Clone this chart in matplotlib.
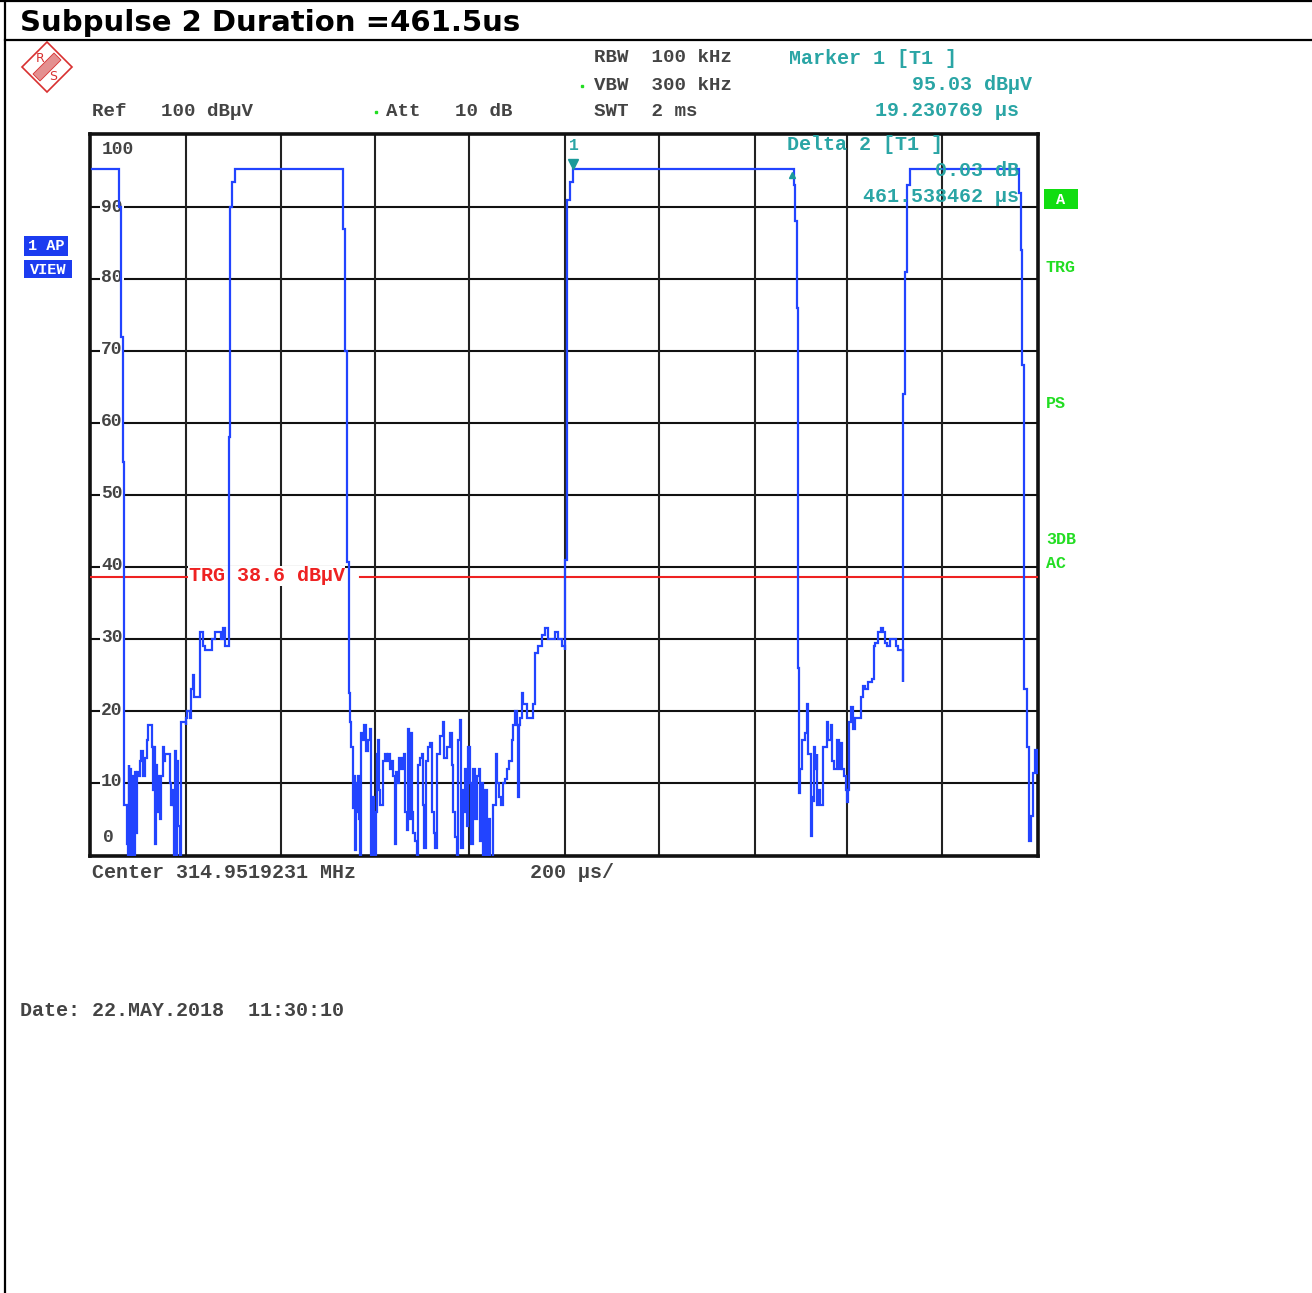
import matplotlib
matplotlib.use("Agg")
import matplotlib.pyplot as plt
from matplotlib.patches import Polygon, Rectangle

# ---------- data ----------
trace_time_us = [4, 57, 61, 65.4, 69.6, 71.7,
    72.5, 76, 77.4, 79.5, 81.6, 83, 85, 87.2, 89.3, 90.7, 92.8, 95, 97, 98.5, 102.7, 104.8, 107.6, 111, 114.7, 116.8,
    119.6, 123, 128.7, 130.8, 133.6, 135.8, 137, 139, 140.7, 142.8, 145.6, 147.7, 149.8, 153.3, 156, 159, 166.7,
    168.8, 171, 173.7, 175.8, 178, 179.4, 181.5, 183, 186.4, 190, 191.3, 200.5, 201.9, 202.6, 205.4, 211, 213,
    216.6, 218.8, 221.6, 230, 232, 235.6, 239, 242.7, 253, 256.7, 263.8, 270.8, 275.7, 280, 284.9, 293,
    293.5, 295.4, 299.6, 306, 533.8, 534, 538, 542.3, 547,
    548.6, 550.8, 553.6, 554.3, 557.8, 559.9, 562, 564, 566, 568, 570.5, 572.6, 575.4, 577.5, 581, 583, 587.3, 590.9,
    593, 595, 597.9, 600, 602.8, 605, 607, 609, 612, 616, 619, 622, 626, 629.5, 633, 636.6, 640, 643.6, 645.7, 648.5,
    652.8, 655.6, 659.8, 663.3, 664.7, 668, 671, 673.9, 676.7, 679.5, 682.3, 685.8, 689.3, 692, 696.4, 699.9, 703.4,
    705.5, 709, 714, 717.5, 721, 726, 728, 731.5, 738.6, 744, 747.7, 752.6, 759.7, 763.2, 766.7, 770, 773.7, 777.3,
    780.8, 782.9, 786.4, 789.2, 791.3, 794.9, 798.4, 801.9, 804.7, 808.9, 812.4, 816, 820.2, 823, 826.5, 830, 833.5,
    837, 840.6, 844, 847.6, 849.7, 853, 856.7, 859.6, 863, 866.6, 870.8, 875.7, 879, 885, 889.8, 893.3, 896.9, 900.4,
    902.5, 904.6, 907.4, 911, 914.4, 921.5, 928.5, 934, 939, 946, 953, 960, 967, 974, 981, 988, 995, 1002,
    1003, 1004, 1006.5, 1012.8, 1019, 1483.3, 1485, 1487.5, 1491.8, 1493,
    1494.6, 1496, 1498, 1501.6, 1505, 1508.7, 1512, 1514, 1517.8, 1520.6, 1521.3, 1523.4, 1526, 1528, 1530.5, 1533,
    1534.7, 1536.8, 1540, 1546, 1546.3, 1551, 1554, 1558, 1562.8, 1565, 1570, 1574, 1577, 1579.7, 1584, 1586.7, 1591,
    1594.5, 1598, 1600, 1602, 1605, 1609, 1614, 1621, 1626, 1630, 1635, 1642, 1649, 1653, 1656, 1663, 1668, 1672.6,
    1677.5, 1681, 1688, 1695, 1700.7, 1705.6, 1714.8, 1714.9, 1715.4, 1719.6, 1724, 1730, 1958, 1960, 1964, 1966.5,
    1970.7, 1976, 1980, 1982, 1985, 1989, 1994, 1997]
trace_level_dbuv = [95.3, 95.3, 90, 72, 54.6, 41,
    7, 7, 1.5, -3, 12.5, 0, 12, -1, 11, 3, -1, 11.5, 3, 11.5, 11, 13, 14.5, 11, 11, 13.5,
    16, 18, 18, 15, 9, 15, 1.5, 12.5, 6, 11, 8, 5, 11, 15, 13, 14, 14,
    10, 7, 9, 7, -3, 14.5, -3, 13, 4, -3, 18.5, 18.5, 18, 19, 20, 19, 23,
    25, 22, 22, 22, 31, 31, 29, 28.5, 28.5, 30, 31, 31, 30, 31.5, 29, 29,
    58, 90, 93.5, 95.3, 95.3, 87, 70, 40.7, 22.5,
    18.5, 15, 15, 6.5, 11, 0.7, 10, 6, 11, 5, -2, 17, 16, 18, 18, 14.5, 16, 17.5,
    -2, -3, 8, -2, 6, 14, 16, 9, 7, 7, 13, 14, 13, 14, 12, 13, 11, 1.5, 11.5, 10,
    13.5, 12, 13.5, 14, 6, 3.5, 17.5, 5, 17, 6, 3, 2, 0, 12.5, 13.5, 14, 7,
    1, 13, 15, 15.5, 6, 3, 1, 14, 16.5, 18.5, 13.5, 15, 17, 12.5, 6, 2.5, 0, 16,
    18.8, 1, 9, 6, 12, 4, 15, 10, 1.5, 12, 5, 11, 12, 2, 10, -1, 9,
    0, 5, -1, -2, 7, 7, 14, 10, 8, 7, 10, 10.5, 12, 13, 16, 18, 20, 18,
    8, 18, 19, 22.5, 21, 19, 19, 21, 28, 29, 30.5, 31.5, 30, 30, 31, 30, 29, 28.5,
    41, 41, 91, 93.5, 95.3, 95.3, 93, 88, 76, 26,
    26, 8.6, 12, 16, 16, 17, 21, 14, 14, 6, 2.6, 8, 7.5, 15, 12, 14,
    7, 9, 7, 7, 15, 15, 18.5, 16, 18, 13, 12, 12, 16, 12, 15.5, 12, 11,
    9, 7.3, 9, 18.5, 20.5, 17.5, 19, 19, 22, 23.5, 23, 24, 24.5, 29, 29.5, 31, 31.5, 31,
    29.5, 29, 30, 30, 29, 28.5, 28, 24, 64, 81, 93, 95.3, 95.3, 92, 84, 68,
    23, 15, 7.7, 2, 5.4, 11.4, 14.6, 11.4]
level_grid = [10, 20, 30, 40, 50, 60, 70, 80, 90]
time_grid_us = [202.5, 403, 601, 800, 1002, 1200, 1403, 1597, 1797]
level_labels = ["100", "90", "80", "70", "60", "50", "40", "30", "20", "10", "0"]
trigger_level = 38.6
marker1_time_us = 1019.2
marker1_level = 95.03
delta2_time_us = 1480.8

title = "Subpulse 2 Duration =461.5us"
TEAL, GREEN, RED, BLUE, INK = "#2aa5a5", "#22dd22", "#ee2222", "#2244ff", "#444444"
W, H = 1312, 1293

fig = plt.figure(figsize=(W/100, H/100), dpi=100, facecolor="white")

# page overlay in image pixels
page = fig.add_axes([0, 0, 1, 1], zorder=0)
page.set_xlim(0, W); page.set_ylim(H, 0); page.axis("off")
top = fig.add_axes([0, 0, 1, 1], zorder=5)
top.set_xlim(0, W); top.set_ylim(H, 0); top.axis("off"); top.patch.set_alpha(0)

page.plot([5, 5], [0, H], color="black", lw=1.6)
page.plot([0, W], [1, 1], color="black", lw=1.6)
page.plot([5, W], [40, 40], color="black", lw=1.6)
page.text(20, 23, title, fontsize=21, fontweight="bold", family="DejaVu Sans", va="center", color="black")

def label(x, y, s, color=INK, ha="left", size=14.4, ax=page, **kw):
    ax.text(x, y, s, color=color, ha=ha, va="center", fontsize=size,
            family=["Liberation Mono", "DejaVu Sans Mono"], fontweight="bold", **kw)

label(92, 111, "Ref   100 dBµV", size=13.8)
label(386, 111, "Att   10 dB", size=13.8)
label(594, 58, "RBW  100 kHz", size=13.8)
label(594, 85, "VBW  300 kHz", size=13.8)
label(594, 111, "SWT  2 ms", size=13.8)
label(789, 59, "Marker 1 [T1 ]", TEAL)
label(1032, 85, "95.03 dBµV", TEAL, ha="right")
label(1019, 111, "19.230769 µs", TEAL, ha="right")
label(92, 873, "Center 314.9519231 MHz")
label(530, 873, "200 µs/")
label(20, 1011, "Date: 22.MAY.2018  11:30:10")
page.plot([582, 376], [86, 112], ls="none", marker="s", ms=2, color=GREEN)

# R&S logo
page.add_patch(Polygon([(47, 42), (72, 67), (47, 92), (22, 67)], closed=True, fill=False, ec="#d83030", lw=1.2))
page.add_patch(Polygon([(33, 74), (54, 53), (61, 60), (40, 81)], closed=True, fc="#e49090", ec="#d83030", lw=0.6))
page.text(40, 58, "R", color="#d83030", fontsize=9, ha="center", va="center", family="DejaVu Sans")
page.text(53, 76, "S", color="#d83030", fontsize=9, ha="center", va="center", family="DejaVu Sans")

# side badges
page.add_patch(Rectangle((24, 236), 44, 20, fc="#1c3cf0", ec="none"))
label(46, 246, "1 AP", "white", ha="center", size=11)
page.add_patch(Rectangle((24, 260), 48, 18, fc="#1c3cf0", ec="none"))
label(48, 270, "VIEW", "white", ha="center", size=11)
page.add_patch(Rectangle((1044, 189), 34, 20, fc="#11dd11", ec="none"))
label(1061, 200, "A", "white", ha="center", size=11)
label(1061, 268, "TRG", GREEN, ha="center", size=12)
label(1056, 404, "PS", GREEN, ha="center", size=12)
label(1061, 540, "3DB", GREEN, ha="center", size=12)
label(1056, 564, "AC", GREEN, ha="center", size=12)

# main plot
x0, x1, y0, y1 = 90, 1038, 134, 856
ax = fig.add_axes([x0/W, 1-y1/H, (x1-x0)/W, (y1-y0)/H], zorder=1)
ax.set_xlim(0, 2000); ax.set_ylim(-0.14, 100.14)
ax.set_xticks([]); ax.set_yticks([])
for s in ax.spines.values():
    s.set_linewidth(2.6); s.set_color("#111111")
for v in level_grid:
    ax.axhline(v, color="#111111", lw=1.5, zorder=1)
for t in time_grid_us:
    ax.axvline(t, color="#222222", lw=1.5, zorder=1)

label_x = [118, 112, 112, 112, 112, 112, 112, 112, 112, 112, 108]
label_y = [149, 207, 278, 350, 422, 494, 566, 638, 710, 782, 838]
for s, px, py in zip(level_labels, label_x, label_y):
    page_x = (px - x0) / (x1 - x0)
    page_y = 1 - (py - y0) / (y1 - y0)
    ax.text(page_x, page_y, s, transform=ax.transAxes, color=INK, ha="center", va="center",
            fontsize=13, family="Liberation Mono", fontweight="bold", zorder=2,
            bbox=dict(fc="white", ec="none", pad=0.6))

ax.plot([0, 205], [trigger_level]*2, color=RED, lw=1.5, zorder=3)
ax.plot([570, 2000], [trigger_level]*2, color=RED, lw=1.5, zorder=3)
ax.text(208, 38.8, "TRG 38.6 dBµV", color=RED, va="center", fontsize=14.4,
        family="Liberation Mono", fontweight="bold", zorder=3,
        bbox=dict(fc="white", ec="none", pad=0.3))
ax.plot(trace_time_us, trace_level_dbuv, color=BLUE, lw=1.6, zorder=4,
        drawstyle="steps-post", solid_joinstyle="miter")

# markers and labels over the trace
ax.plot([marker1_time_us], [marker1_level + 0.9], marker="v", ms=7, color="#1a9a9a", ls="none", zorder=5, clip_on=False)
ax.plot([delta2_time_us], [marker1_level - 0.6], marker="^", ms=5, color="#1a9a9a", ls="none", zorder=5)
label(569, 145, "1", TEAL, size=12, ax=top)
label(787, 145, "Delta 2 [T1 ]", TEAL, ax=top)
label(1019, 171, "0.03 dB", TEAL, ha="right", ax=top)
label(1019, 197, "461.538462 µs", TEAL, ha="right", ax=top)

fig.savefig("out.png", dpi=100, facecolor="white")
